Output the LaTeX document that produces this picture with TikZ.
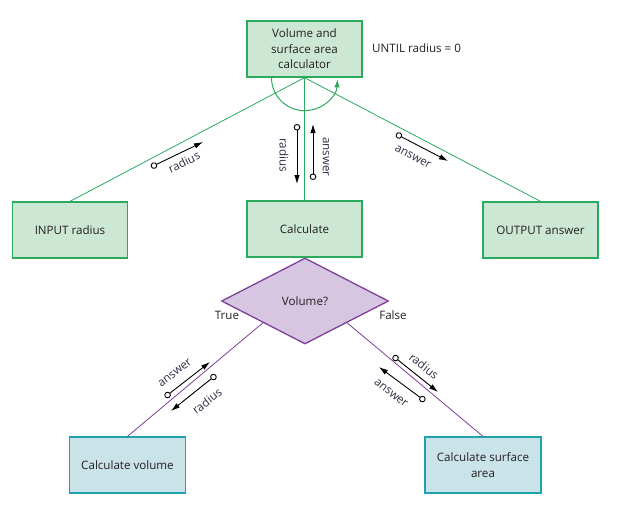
\documentclass[tikz,border=0pt]{standalone}
\usepackage{fontspec}
\setmainfont{Open Sans}
\usetikzlibrary{shapes.geometric,arrows.meta,calc}
\definecolor{gfill}{HTML}{CDE7D5}
\definecolor{gdraw}{HTML}{2BAA5E}
\definecolor{bfill}{HTML}{C9E3E8}
\definecolor{bdraw}{HTML}{1FA2AE}
\definecolor{pfill}{HTML}{D6C6E1}
\definecolor{pdraw}{HTML}{7E3F98}
\definecolor{txt}{HTML}{231F20}
\definecolor{lbl}{HTML}{2E2E45}
\tikzset{
  gbox/.style={draw=gdraw,fill=gfill,line width=1.3pt,minimum width=115pt,minimum height=56pt,align=center,text=txt,font=\fontsize{11.6}{15.5}\selectfont,inner sep=2pt},
  bbox/.style={draw=bdraw,fill=bfill,line width=1.3pt,minimum width=116pt,minimum height=56pt,align=center,text=txt,font=\fontsize{11.6}{15.5}\selectfont,inner sep=2pt},
  gline/.style={draw=gdraw,line width=0.8pt},
  pline/.style={draw=pdraw,line width=0.8pt},
  flow/.style={line width=0.9pt,black,{Circle[open,length=6.5pt,width=6.5pt]}-{Latex[length=9pt,width=5.5pt]}},
  lab/.style={text=lbl,font=\fontsize{11.6}{13}\selectfont,inner sep=0pt},
  plain/.style={text=txt,font=\fontsize{11.6}{13}\selectfont,inner sep=0pt}
}
\begin{document}
\begin{tikzpicture}[x=1pt,y=-1pt]
\useasboundingbox (0,0) rectangle (622,507);
% boxes
\node[gbox] (top) at (304.5,49) {Volume and\\surface area\\calculator};
\node[gbox] (inp) at (70,230) {INPUT radius};
\node[gbox] (calc) at (304.5,229) {Calculate};
\node[gbox] (outp) at (540.5,230) {OUTPUT answer};
\node[diamond,draw=pdraw,fill=pfill,line width=1.3pt,minimum width=167pt,minimum height=86pt,inner sep=0pt,text=txt,font=\fontsize{11.6}{13}\selectfont] (dia) at (305,301) {Volume?};
\node[bbox] (vol) at (127.5,465) {Calculate volume};
\node[bbox] (surf) at (483,465) {Calculate surface\\area};
\node[plain,anchor=west] (until) at (372,48) {UNTIL radius = 0};
\node[plain] (true) at (227,315) {True};
\node[plain] (false) at (393,315) {False};
% connectors
\draw[gline] (top.south) -- (inp.north);
\draw[gline] (top.south) -- (calc.north);
\draw[gline] (top.south) -- (outp.north);
\draw[gdraw,line width=1pt,-{Latex[length=8pt,width=5.5pt]}] ([xshift=-33pt]top.south) arc (180:357:33pt);
\coordinate (dl) at ($(dia.south)!0.5!(dia.west)$);
\coordinate (dr) at ($(dia.south)!0.5!(dia.east)$);
\draw[pline] (dl) -- (vol.north);
\draw[pline] (dr) -- (surf.north);
% data flows
\coordinate (a1) at (151,167); \coordinate (a2) at (203,142);
\draw[flow] (a1) -- (a2);
\node[lab,rotate=26] (l1) at (184,162) {radius};
\coordinate (b1) at (297,124); \coordinate (b2) at (297,184);
\draw[flow] (b1) -- (b2);
\node[lab,rotate=-90] (l2) at (284,155) {radius};
\coordinate (c1) at (313,180); \coordinate (c2) at (313,124);
\draw[flow] (c1) -- (c2);
\node[lab,rotate=-90] (l3) at (326,157) {answer};
\coordinate (d1) at (396,134); \coordinate (d2) at (448,161);
\draw[flow] (d1) -- (d2);
\node[lab,rotate=-28] (l4) at (413,157) {answer};
\coordinate (e1) at (165,397); \coordinate (e2) at (210,362);
\draw[flow] (e1) -- (e2);
\node[lab,rotate=38] (l5) at (175,373) {answer};
\coordinate (f1) at (216,375); \coordinate (f2) at (171,411);
\draw[flow] (f1) -- (f2);
\node[lab,rotate=38] (l6) at (207,401) {radius};
\coordinate (g1) at (393,356); \coordinate (g2) at (438,392);
\draw[flow] (g1) -- (g2);
\node[lab,rotate=-38] (l7) at (424,366) {radius};
\coordinate (h1) at (425,401); \coordinate (h2) at (379,367);
\draw[flow] (h1) -- (h2);
\node[lab,rotate=-38] (l8) at (391,393) {answer};
\end{tikzpicture}
\end{document}
